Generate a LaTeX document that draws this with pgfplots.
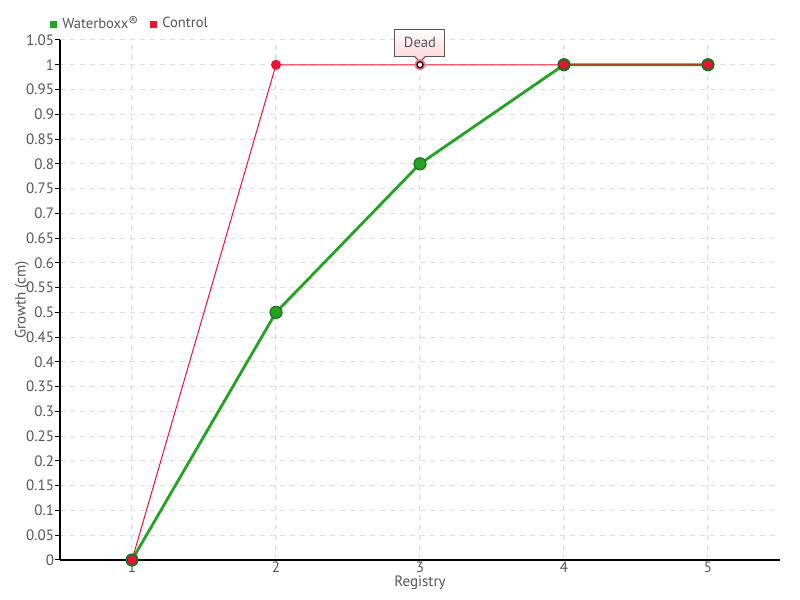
\documentclass[border=0pt]{standalone}
\usepackage{pgfplots}
\pgfplotsset{compat=1.18}
\usepackage{fontspec}
\setmainfont{PT Sans}
\definecolor{wgreen}{HTML}{22A322}
\definecolor{wgreendark}{HTML}{1E6E1E}
\definecolor{cred}{HTML}{EE1133}
\definecolor{txt}{HTML}{555555}
\definecolor{gridc}{HTML}{DDDDDD}
\definecolor{pinkb}{HTML}{FCDADA}
\begin{document}
\begin{tikzpicture}
\useasboundingbox (-30pt,-20pt) rectangle (370pt,280pt);
\begin{axis}[
  at={(0,0)}, anchor=south west,
  scale only axis,
  width=360pt, height=260pt,
  xmin=0.5, xmax=5.5,
  ymin=0, ymax=1.05,
  xtick={1,2,3,4,5},
  ytick={0,0.05,...,1.05},
  yticklabel style={/pgf/number format/fixed,/pgf/number format/precision=2, xshift=3pt},
  /pgf/number format/assume math mode=true,
  ticklabel style={font=\fontsize{7.5}{8}\selectfont, text=txt},
  axis x line*=bottom, axis y line*=left,
  axis line style={-, black, line width=0.7pt},
  tick align=outside,
  xtick style={draw=none},
  ytick style={draw=black, line width=0.5pt},
  major tick length=2.5pt,
  xticklabel style={yshift=5pt},
  grid=major,
  major grid style={gridc, dash pattern=on 2.5pt off 2.5pt, line width=0.5pt},
  xlabel={Registry}, ylabel={Growth (cm)},
  label style={font=\fontsize{7.5}{8}\selectfont, text=txt},
  xlabel style={at={(axis description cs:0.5,-0.043)}, anchor=center},
  ylabel style={at={(axis description cs:-0.0528,0.5)}, anchor=center},
  clip=false,
  legend style={at={(0,1)}, anchor=south west, xshift=-5pt, yshift=2pt, draw=none, fill=none,
    font=\fontsize{7.3}{8}\selectfont, text=txt, legend columns=2, inner sep=0pt,
    column sep=1pt, /tikz/every even column/.append style={column sep=4pt}},
  legend cell align=left,
]
\addlegendimage{only marks, mark=square*, mark size=1.5pt, color=wgreen}
\addlegendentry{Waterboxx\raisebox{0.3ex}{\scriptsize\textregistered}}
\addlegendimage{only marks, mark=square*, mark size=1.5pt, color=cred}
\addlegendentry{Control}
% Waterboxx
\addplot[forget plot, wgreen, line width=1.4pt, mark=*, mark size=3pt,
  mark options={fill=wgreen, draw=wgreendark, line width=0.6pt}]
  coordinates {(1,0) (2,0.5) (3,0.8) (4,1) (5,1)};
% Control line
\addplot[forget plot, cred, line width=0.5pt]
  coordinates {(1,0) (2,1) (3,1) (4,1) (5,1)};
\addplot[forget plot, only marks, mark=*, mark size=2.3pt, mark options={fill=cred, draw=cred}]
  coordinates {(2,1)};
\addplot[forget plot, only marks, mark=*, mark size=2.6pt, mark options={fill=cred, draw=wgreendark, line width=0.5pt}]
  coordinates {(1,0) (4,1) (5,1)};
\addplot[forget plot, only marks, mark=*, mark size=2.6pt, mark options={fill=cred!60, draw=cred!60}]
  coordinates {(3,1)};
\addplot[forget plot, only marks, mark=*, mark size=1.5pt, mark options={fill=white, draw=black, line width=0.6pt}]
  coordinates {(3,1)};
\node[draw=txt, line width=0.5pt, top color=white, bottom color=pinkb,
  minimum width=25pt, minimum height=13pt, text height=6pt, text depth=1.5pt, inner xsep=1pt, inner ysep=3pt,
  font=\fontsize{7.3}{8}\selectfont, text=txt, anchor=south, yshift=4pt]
  (dead) at (axis cs:3,1) {Dead};
\fill[pinkb] ([xshift=-2.5pt,yshift=0.3pt]dead.south) -- ([yshift=-2.8pt]dead.south) -- ([xshift=2.5pt,yshift=0.3pt]dead.south) -- cycle;
\draw[txt, line width=0.5pt] ([xshift=-2.5pt]dead.south) -- ([yshift=-2.8pt]dead.south) -- ([xshift=2.5pt]dead.south);
\end{axis}
\end{tikzpicture}
\end{document}
